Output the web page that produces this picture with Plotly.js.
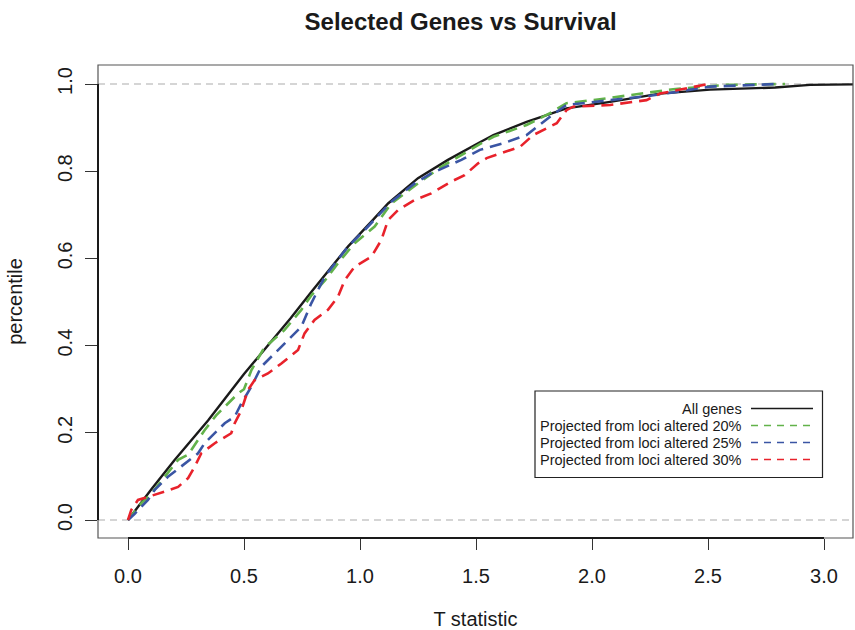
<!DOCTYPE html>
<html>
<head>
<meta charset="utf-8">
<script src="https://cdn.plot.ly/plotly-3.0.1.min.js"></script>
<style>html,body{margin:0;padding:0;background:#fff;}#chart{width:855px;height:630px;}</style>
</head>
<body>
<div id="chart"></div>
<script>
// ---- Data ----
const allGenesX = [0, 0.05, 0.1, 0.2, 0.345, 0.5, 0.575, 0.7, 0.79, 0.948, 1.05, 1.121, 1.25, 1.379, 1.509, 1.575, 1.718, 1.89, 2.078, 2.293, 2.509, 2.79, 2.94, 3.2];
const allGenesY = [0, 0.035, 0.07, 0.137, 0.228, 0.335, 0.382, 0.462, 0.523, 0.627, 0.685, 0.726, 0.784, 0.826, 0.864, 0.883, 0.913, 0.944, 0.959, 0.978, 0.987, 0.992, 0.998, 0.9995];

const loci20X = [0, 0.015, 0.057, 0.1, 0.158, 0.216, 0.26, 0.33, 0.38, 0.417, 0.474, 0.5, 0.532, 0.589, 0.62, 0.675, 0.747, 0.79, 0.85, 0.905, 0.977, 1.063, 1.135, 1.25, 1.35, 1.431, 1.509, 1.575, 1.718, 1.819, 1.89, 2.034, 2.18, 2.35, 2.58, 2.832];
const loci20Y = [0, 0.01, 0.038, 0.06, 0.099, 0.138, 0.15, 0.206, 0.24, 0.26, 0.29, 0.3, 0.344, 0.397, 0.41, 0.436, 0.482, 0.515, 0.55, 0.589, 0.635, 0.673, 0.726, 0.772, 0.81, 0.835, 0.86, 0.879, 0.906, 0.933, 0.956, 0.965, 0.976, 0.988, 0.998, 1.0];

const loci25X = [0, 0.03, 0.086, 0.115, 0.172, 0.244, 0.302, 0.33, 0.417, 0.46, 0.489, 0.532, 0.575, 0.632, 0.69, 0.747, 0.79, 0.848, 0.948, 1.02, 1.135, 1.236, 1.307, 1.437, 1.517, 1.618, 1.718, 1.819, 1.89, 2.078, 2.235, 2.365, 2.509, 2.796];
const loci25Y = [0, 0.015, 0.046, 0.069, 0.099, 0.13, 0.153, 0.176, 0.222, 0.237, 0.268, 0.306, 0.352, 0.382, 0.413, 0.443, 0.497, 0.558, 0.627, 0.665, 0.73, 0.772, 0.795, 0.826, 0.849, 0.864, 0.883, 0.925, 0.952, 0.963, 0.972, 0.982, 0.994, 1.0];

const loci30X = [0, 0.014, 0.043, 0.086, 0.158, 0.216, 0.259, 0.287, 0.316, 0.374, 0.445, 0.46, 0.489, 0.517, 0.546, 0.603, 0.661, 0.733, 0.761, 0.804, 0.862, 0.905, 0.934, 0.977, 1.049, 1.092, 1.121, 1.164, 1.236, 1.307, 1.393, 1.451, 1.509, 1.546, 1.69, 1.747, 1.848, 1.89, 1.919, 2.078, 2.235, 2.293, 2.365, 2.502];
const loci30Y = [0, 0.023, 0.046, 0.053, 0.065, 0.076, 0.096, 0.122, 0.153, 0.176, 0.199, 0.222, 0.252, 0.298, 0.321, 0.336, 0.359, 0.39, 0.428, 0.459, 0.482, 0.512, 0.55, 0.581, 0.604, 0.642, 0.688, 0.711, 0.734, 0.749, 0.776, 0.791, 0.818, 0.83, 0.856, 0.883, 0.91, 0.94, 0.948, 0.952, 0.963, 0.978, 0.986, 1.0];

const seriesNames = ["All genes", "Projected from loci altered 20%", "Projected from loci altered 25%", "Projected from loci altered 30%"];
const xTickVals = [0, 0.5, 1.0, 1.5, 2.0, 2.5, 3.0];
const yTickVals = [0, 0.2, 0.4, 0.6, 0.8, 1.0];
const refLevels = [0, 1];

// ---- Styles ----
const FONT = "Liberation Sans, Arial, Helvetica, sans-serif";
const colors = ["#1a1a1a", "#62b24a", "#3a55a4", "#e8222b"];
const dashes = ["solid", "12px,7px", "12px,7px", "12px,7px"];
const widths = [2.4, 2.6, 2.6, 2.6];
const xs = [allGenesX, loci20X, loci25X, loci30X];
const ys = [allGenesY, loci20Y, loci25Y, loci30Y];

const traces = seriesNames.map((n, i) => ({
  type: "scatter", mode: "lines", name: n,
  x: xs[i], y: ys[i],
  line: {color: colors[i], width: widths[i], dash: dashes[i]},
  showlegend: false, hoverinfo: "x+y+name"
}));

const shapes = [];
// reference dashed lines at 0 and 1
refLevels.forEach(v => shapes.push({type: "line", xref: "paper", yref: "y", x0: 0, x1: 1, y0: v, y1: v,
  line: {color: "#c8c8c8", width: 1.3, dash: "7px,5px"}, layer: "below"}));
// box
shapes.push({type: "rect", xref: "paper", yref: "paper", x0: 0, x1: 1, y0: 0, y1: 1, line: {color: "#555", width: 1.2}});
// R-style axis lines spanning first to last tick
shapes.push({type: "line", xref: "x", yref: "paper", x0: xTickVals[0], x1: xTickVals[xTickVals.length - 1], y0: 0, y1: 0, line: {color: "#1a1a1a", width: 2}});
shapes.push({type: "line", xref: "paper", yref: "y", x0: 0, x1: 0, y0: yTickVals[0], y1: yTickVals[yTickVals.length - 1], line: {color: "#1a1a1a", width: 2}});

// custom R-style legend (text left, line sample right)
const px2x = p => (p - 98) / 755;
const px2y = p => (538 - p) / 473;
shapes.push({type: "rect", xref: "paper", yref: "paper", x0: px2x(535), x1: px2x(822.5), y0: px2y(391), y1: px2y(477.5),
  line: {color: "#222", width: 1.2}, fillcolor: "#fff"});
const rowPx = [408.5, 425.5, 442.5, 459.5];
const legendDash = ["solid", "7px,6px", "7px,6px", "7px,6px"];
const annotations = [];
seriesNames.forEach((n, i) => {
  annotations.push({xref: "paper", yref: "paper", x: px2x(743.5), y: px2y(rowPx[i]), xanchor: "right", yanchor: "middle",
    text: n, showarrow: false, font: {family: FONT, size: 14.5, color: "#1a1a1a"}});
  shapes.push({type: "line", xref: "paper", yref: "paper", x0: px2x(751), x1: px2x(813), y0: px2y(rowPx[i]), y1: px2y(rowPx[i]),
    line: {color: colors[i], width: 1.3, dash: legendDash[i]}});
});

const layout = {
  width: 855, height: 630,
  paper_bgcolor: "#fff", plot_bgcolor: "#fff",
  margin: {l: 98, r: 2, t: 65, b: 92, pad: 0},
  font: {family: FONT, color: "#1a1a1a"},
  title: {text: "<b>Selected Genes vs Survival</b>", xref: "container", x: 460.7 / 855, xanchor: "center",
    yref: "container", y: 1 - 22 / 630, yanchor: "middle", font: {family: FONT, size: 24, color: "#1a1a1a"}},
  xaxis: {
    range: [(98 - 128) / 232, (853 - 128) / 232],
    tickvals: xTickVals, tickformat: ".1f",
    ticks: "outside", ticklen: 11, tickwidth: 1, tickcolor: "#333",
    ticklabelstandoff: 9,
    tickfont: {family: FONT, size: 20, color: "#1a1a1a"},
    showgrid: false, zeroline: false, showline: false,
    title: {text: "T statistic", font: {family: FONT, size: 20, color: "#1a1a1a"}, standoff: 40}
  },
  yaxis: {
    range: [(520 - 538) / 436, (520 - 65) / 436],
    tickvals: yTickVals, tickformat: ".1f", tickangle: -90,
    ticks: "outside", ticklen: 12, tickwidth: 1, tickcolor: "#333",
    ticklabelstandoff: 5,
    tickfont: {family: FONT, size: 20, color: "#1a1a1a"},
    showgrid: false, zeroline: false, showline: false,
    title: {text: "percentile", font: {family: FONT, size: 20, color: "#1a1a1a"}, standoff: 26}
  },
  shapes: shapes,
  annotations: annotations,
  showlegend: false
};

Plotly.newPlot("chart", traces, layout, {displayModeBar: false, staticPlot: true});
</script>
</body>
</html>
